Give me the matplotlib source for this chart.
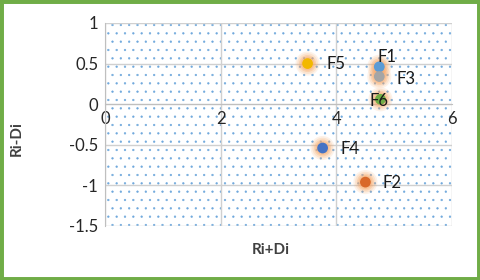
import matplotlib
matplotlib.use("Agg")
import matplotlib.pyplot as plt
from matplotlib.patches import Rectangle

labels = ["F1", "F2", "F3", "F4", "F5", "F6"]
x_vals = [4.74, 4.50, 4.74, 3.76, 3.50, 4.76]
y_vals = [0.46, -0.96, 0.34, -0.54, 0.50, 0.06]
colors = ["#5B9BD5", "#D9692A", "#A5A5A5", "#4472C4", "#F2B800", "#70AD47"]
label_offsets = [(-2, 10), (17, -1), (17, -2), (18, -1), (19, 0), (-11, -2)]
x_ticks = [0, 2, 4, 6]
y_ticks = [-1.5, -1, -0.5, 0, 0.5, 1]

plt.rcParams['font.family'] = ['Lato', 'DejaVu Sans']
plt.rcParams['hatch.linewidth'] = 0.4

fig = plt.figure(figsize=(4.8, 2.8), dpi=100)
ax = fig.add_axes([0.219, 0.193, 0.723, 0.725])

ax.set_xlim(0, 6)
ax.set_ylim(-1.5, 1)
ax.add_patch(Rectangle((0, 0), 1, 1, transform=ax.transAxes, facecolor='white',
                       edgecolor='#6FA8DC', linewidth=0, hatch='..', zorder=0))

ax.set_xticks(x_ticks)
ax.set_yticks(y_ticks)
ax.set_yticklabels([f"{v:g}" for v in y_ticks])
ax.grid(True, color='#D0D0D0', linewidth=1.0)
ax.set_axisbelow(True)
for gl in ax.get_xgridlines() + ax.get_ygridlines():
    gl.set_zorder(1)
ax.tick_params(length=0, labelsize=12, colors='#262626', pad=5)

for s in ['top', 'right']:
    ax.spines[s].set_visible(False)
ax.spines['bottom'].set_position(('data', 0))
ax.spines['bottom'].set_color('#BFBFBF')
ax.spines['left'].set_color('#BFBFBF')

for xv, yv, c, lab, off in zip(x_vals, y_vals, colors, labels, label_offsets):
    for s, a in [(300, 0.15), (220, 0.2), (150, 0.3), (100, 0.35)]:
        ax.scatter([xv], [yv], s=s, color='#F6A86A', alpha=a, edgecolors='none', zorder=3)
    ax.scatter([xv], [yv], s=60, color=c, edgecolors='none', zorder=4)
    ax.annotate(lab, (xv, yv), xytext=off, textcoords='offset pixels',
                ha='left', va='center', fontsize=12, color='#1A1A1A', zorder=5)

ax.set_xlabel("Ri+Di", fontsize=11, fontweight='bold', color='#404040')
ax.xaxis.set_label_coords(0.477, -0.085)
ax.set_ylabel("Ri-Di", fontsize=11, fontweight='bold', color='#404040')
ax.yaxis.set_label_coords(-0.235, 0.43)

fig.patches.append(Rectangle((0, 0), 1, 1, transform=fig.transFigure, fill=False,
                             edgecolor='#70AD47', linewidth=5, zorder=10))

fig.savefig("out.png", dpi=100)
